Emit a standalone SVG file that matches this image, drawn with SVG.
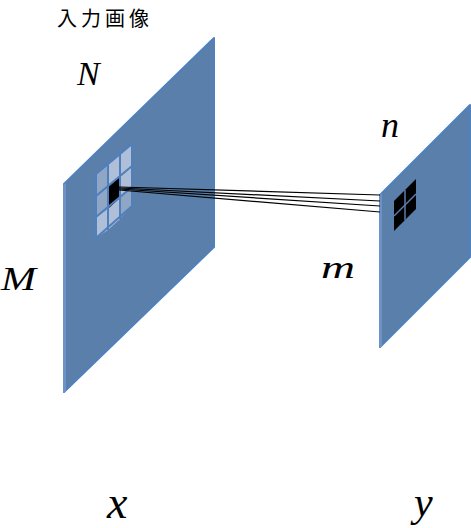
<svg xmlns="http://www.w3.org/2000/svg" width="471" height="528" viewBox="0 0 471 528">
<style>
.plane{fill:#5a7fab;stroke:#4f81bd;stroke-width:2;stroke-linejoin:round}
.edge{fill:#6d93c6}
.lt{fill:#aebfd7}
.md{fill:#8fa6c5}
.gl{fill:none;stroke:#4f7fbc;stroke-width:2}
.math{font-family:"Liberation Serif",serif;font-style:italic;fill:#000}
.jp{font-family:"Noto Sans CJK JP","Noto Sans",sans-serif;fill:#000}
.conn line{stroke:#000;stroke-width:1.2}
</style>
<rect width="471" height="528" fill="#fff"/>
<text class="jp" x="57" y="26" font-size="20" letter-spacing="4">入力画像</text>
<g id="plane-input">
<polygon class="plane" points="64,184 214,38 214,247 64,392"/>
<polygon class="edge" points="63,185 66,183 66,391 63,393"/>
<g id="kernel">
<polygon class="md" points="96,174 108,165 108,187 96,196"/>
<polygon class="lt" points="108,165 120,155 120,177 108,187"/>
<polygon class="lt" points="120,155 132,144 132,166 120,177"/>
<polygon class="md" points="96,196 108,187 108,209 96,217"/>
<polygon fill="#000" points="108,187 120,177 120,198 108,209"/>
<polygon class="lt" points="120,177 132,166 132,187 120,198"/>
<polygon class="lt" points="96,217 108,209 108,230 96,238"/>
<polygon class="lt" points="108,209 120,198 120,219 108,230"/>
<polygon class="md" points="120,198 132,187 132,206 120,219"/>
<polygon class="gl" points="96,174 132,144 132,206 96,238"/>
<line class="gl" x1="108" y1="165" x2="108" y2="230"/>
<line class="gl" x1="120" y1="155" x2="120" y2="219"/>
<line class="gl" x1="96" y1="196" x2="132" y2="166"/>
<line class="gl" x1="96" y1="217" x2="132" y2="187"/>
</g>
</g>
<g id="plane-output">
<polygon class="plane" points="380,195 470,105 470,257 380,347"/>
<polygon class="edge" points="379,196 382,193 382,346 379,348"/>
<g id="output-cells">
<polygon fill="#000" points="394,201 416,179 416,209 394,231"/>
<line x1="405" y1="190" x2="405" y2="220" stroke="#5a7fab" stroke-width="1.5"/>
<line x1="394" y1="216" x2="416" y2="194" stroke="#5a7fab" stroke-width="1.5"/>
</g>
</g>
<g id="connectors" class="conn">
<line x1="119" y1="187" x2="380" y2="195"/>
<line x1="119" y1="188" x2="380" y2="201"/>
<line x1="119" y1="189" x2="380" y2="206"/>
<line x1="119" y1="190" x2="380" y2="212"/>
</g>
<g id="labels">
<text class="math" x="77" y="85" font-size="34">N</text>
<text class="math" x="1" y="290" font-size="34" textLength="35" lengthAdjust="spacingAndGlyphs">M</text>
<text class="math" x="381" y="137" font-size="36">n</text>
<text class="math" x="321" y="278" font-size="32" textLength="34" lengthAdjust="spacingAndGlyphs">m</text>
<text class="math" x="107" y="518" font-size="46">x</text>
<text class="math" x="414" y="516" font-size="42">y</text>
</g>
</svg>
